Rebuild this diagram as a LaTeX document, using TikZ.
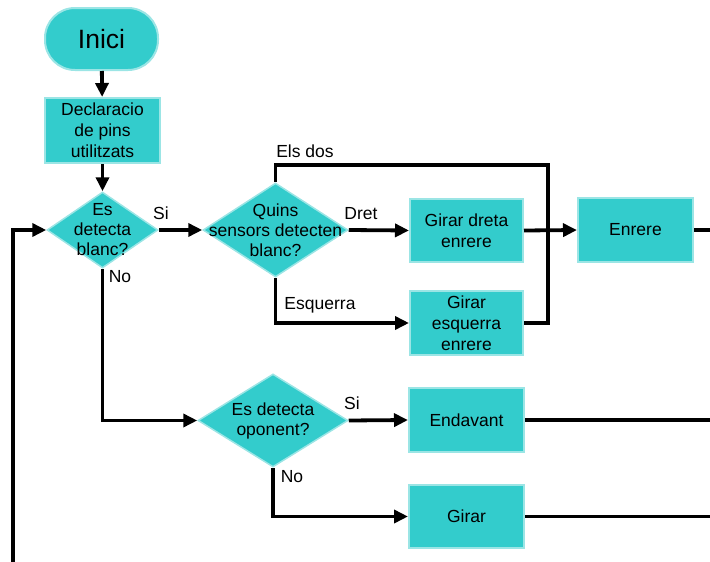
\documentclass[tikz,border=0pt]{standalone}
\usepackage{fontspec}
\setmainfont{Liberation Sans}
\usetikzlibrary{shapes.geometric,arrows.meta}
\definecolor{teal1}{HTML}{33CCCC}
\definecolor{tealb}{HTML}{9BE5E5}
\tikzset{
  box/.style={draw=tealb, line width=2pt, fill=teal1, minimum width=113pt, minimum height=63pt, inner sep=0pt, align=center, font=\fontsize{17.5}{21}\selectfont},
  dia/.style={shape=diamond, draw=tealb, line width=1.5pt, fill=teal1, inner sep=0pt},
  dtxt/.style={align=center, font=\fontsize{17.5}{20}\selectfont, inner sep=0pt},
  lbl/.style={font=\fontsize{17.5}{20}\selectfont, inner sep=0pt},
  conn/.style={line width=3.8pt, line join=miter},
  arr/.style={conn, -{Triangle[length=14pt,width=13pt]}},
}
\begin{document}
\begin{tikzpicture}[x=1pt,y=-1pt]
\useasboundingbox (0,0) rectangle (710,562);
% nodes
\node[draw=tealb, line width=2pt, fill=teal1, rounded corners=30pt, minimum width=113pt, minimum height=62pt, font=\fontsize{26.5}{30}\selectfont] (inici) at (101.5,39) {Inici};
\node[box, minimum width=115pt, minimum height=65pt] (decl) at (102.5,130.5) {Declaracio\\de pins\\utilitzats};
\node[dia, minimum width=111pt, minimum height=76pt] (d1) at (102.5,230) {};
\node[dtxt] at (d1) {Es\\detecta\\blanc?};
\node[dia, minimum width=145pt, minimum height=94pt] (d2) at (275.5,230) {};
\node[dtxt] at (d2) {Quins\\sensors detecten\\blanc?};
\node[box] (gd) at (466.5,230.5) {Girar dreta\\enrere};
\node[box, minimum height=64pt] (ge) at (466.5,323) {Girar\\esquerra\\enrere};
\node[box, minimum width=115pt, minimum height=64pt] (en) at (635.5,230) {Enrere};
\node[dia, minimum width=150pt, minimum height=93pt] (d3) at (273,420.5) {};
\node[dtxt] at (d3) {Es detecta\\oponent?};
\node[box, minimum width=115pt, minimum height=64pt] (ed) at (466.5,420) {Endavant};
\node[box, minimum width=115pt, minimum height=63pt] (gi) at (466.5,516.5) {Girar};
% coordinates
\coordinate (loopb) at (13,562);
\coordinate (top2) at (548,165);
\coordinate (r1) at (710,230);
\coordinate (r2) at (710,420);
\coordinate (r3) at (710,516.5);
% connectors
\draw[arr] (inici) -- (decl);
\draw[arr] (decl) -- (d1.north);
\draw[arr] (loopb) |- (d1.west);
\draw[arr] (d1.east) -- (d2.west);
\draw[arr] (d1.south) |- (d3.west);
\draw[arr] (d2.east) -- (gd.west);
\draw[arr] (d2.south) |- (ge.west);
\draw[conn] (d2.north) |- (top2) |- (ge.east);
\draw[arr] (gd.east) -- (en.west);
\draw[conn] (en.east) -- (r1);
\draw[arr] (d3.east) -- (ed.west);
\draw[arr] (d3.south) |- (gi.west);
\draw[conn] (ed.east) -- (r2);
\draw[conn] (gi.east) -- (r3);
% labels
\node[lbl] at (161,213) {Si};
\node[lbl] at (120,277) {No};
\node[lbl] at (305,151) {Els dos};
\node[lbl] at (361,214) {Dret};
\node[lbl] at (320,305) {Esquerra};
\node[lbl] at (352,403) {Si};
\node[lbl] at (292,477) {No};
\end{tikzpicture}
\end{document}
